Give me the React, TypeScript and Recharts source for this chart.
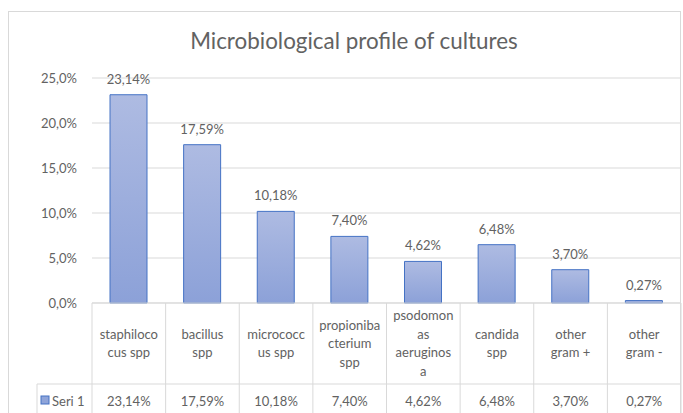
import { BarChart, Bar, XAxis, YAxis, CartesianGrid, LabelList, Customized } from 'recharts'

const CATEGORIES = [
  'staphilococus spp',
  'bacillus spp',
  'micrococcus spp',
  'propionibacterium spp',
  'psodomonas aeruginosa',
  'candida spp',
  'other gram +',
  'other gram -',
]
// how Excel wrapped the labels inside the data table
const CATEGORY_LINES = [
  ['staphiloco', 'cus spp'],
  ['bacillus', 'spp'],
  ['micrococc', 'us spp'],
  ['propioniba', 'cterium', 'spp'],
  ['psodomon', 'as', 'aeruginos', 'a'],
  ['candida', 'spp'],
  ['other', 'gram +'],
  ['other', 'gram -'],
]
const SERI_1 = [23.14, 17.59, 10.18, 7.4, 4.62, 6.48, 3.7, 0.27]
const Y_TICKS = [0, 5, 10, 15, 20, 25]
const SERIES_NAME = 'Seri 1'
const TITLE = 'Microbiological profile of cultures'

const data = CATEGORIES.map((name, i) => ({ name, value: SERI_1[i] }))

const TEXT = '#626262'
const LINE = '#d9d9d9'
const FONT = 'Lato, "Open Sans", sans-serif'

const pct2 = (v: number) => v.toFixed(2).replace('.', ',') + '%'
const pct1 = (v: number) => v.toFixed(1).replace('.', ',') + '%'

// header row height of the data table, then the value row
const HEADER_H = 81
const LINE_H = 18.5

function TableTick(props: any) {
  const { x, y, payload, index, width } = props
  const bw = (width ?? 589) / CATEGORIES.length
  const lines = CATEGORY_LINES[index] ?? [payload.value]
  const midY = y + HEADER_H / 2
  const startY = midY - ((lines.length - 1) * LINE_H) / 2
  return (
    <g>
      <line x1={x + bw / 2} y1={y} x2={x + bw / 2} y2={y + 120} stroke={LINE} />
      {index === 0 && (
        <g>
          <line x1={x - bw / 2} y1={y} x2={x - bw / 2} y2={y + 120} stroke={LINE} />
          <line x1={x - bw / 2 - 55} y1={y + HEADER_H} x2={x - bw / 2 + (width ?? 589)} y2={y + HEADER_H} stroke={LINE} />
          <line x1={x - bw / 2 - 55} y1={y + HEADER_H} x2={x - bw / 2 - 55} y2={y + 120} stroke={LINE} />
          <rect x={x - bw / 2 - 51} y={y + 93} width={8} height={8} fill="#8fa4d9" stroke="#4472c4" />
          <text x={x - bw / 2 - 40} y={y + 98} dy="0.35em" fill={TEXT} fontSize={13}>{SERIES_NAME}</text>
        </g>
      )}
      {lines.map((l: string, i: number) => (
        <text key={i} x={x} y={startY + i * LINE_H} dy="0.35em" textAnchor="middle" fill={TEXT} fontSize={13}>
          {l}
        </text>
      ))}
      <text x={x} y={y + 98} dy="0.35em" textAnchor="middle" fill={TEXT} fontSize={13}>
        {pct2(SERI_1[index])}
      </text>
    </g>
  )
}

function Frame() {
  return (
    <g>
      <rect x={8.5} y={11.5} width={672} height={430} fill="none" stroke={LINE} />
      <text x={354} y={49} textAnchor="middle" fill={TEXT} fontSize={22.4}>{TITLE}</text>
    </g>
  )
}

export default function App() {
  return (
    <div style={{ position: 'absolute', left: 0, top: 0, background: '#fff' }}>
      <BarChart
        width={683}
        height={413}
        data={data}
        margin={{ top: 78, right: 2, bottom: 0, left: 8 }}
        style={{ fontFamily: FONT }}
      >
        <defs>
          <linearGradient id="barFill" x1="0" y1="0" x2="0" y2="1">
            <stop offset="0%" stopColor="#aebbe2" />
            <stop offset="100%" stopColor="#8ca1d8" />
          </linearGradient>
        </defs>
        <Customized component={Frame} />
        <CartesianGrid vertical={false} stroke={LINE} />
        <YAxis
          width={84}
          domain={[0, 25]}
          ticks={Y_TICKS}
          tickFormatter={pct1}
          axisLine={false}
          tickLine={false}
          tickSize={0}
          tickMargin={15}
          tick={{ fill: TEXT, fontSize: 13 }}
        />
        <XAxis
          dataKey="name"
          height={110}
          interval={0}
          axisLine={{ stroke: LINE }}
          tickLine={false}
          tickSize={0}
          tickMargin={0}
          tick={<TableTick />}
        />
        <Bar dataKey="value" fill="url(#barFill)" stroke="#4472c4" strokeWidth={1} barSize={37} isAnimationActive={false}>
          <LabelList dataKey="value" position="top" offset={11} formatter={(v: any) => pct2(Number(v))} fill={TEXT} fontSize={13} />
        </Bar>
      </BarChart>
    </div>
  )
}
